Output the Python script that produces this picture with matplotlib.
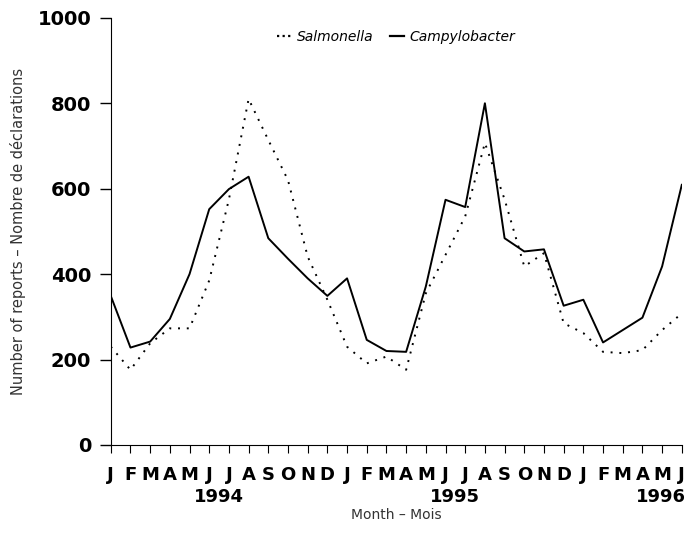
import matplotlib.pyplot as plt
from matplotlib.lines import Line2D
import numpy as np

# Monthly counts, Jan 1994 .. Jun 1996
months = ['J', 'F', 'M', 'A', 'M', 'J', 'J', 'A', 'S', 'O', 'N', 'D',
          'J', 'F', 'M', 'A', 'M', 'J', 'J', 'A', 'S', 'O', 'N', 'D',
          'J', 'F', 'M', 'A', 'M', 'J']
campylobacter = [349, 228, 242, 295, 400, 552, 599, 628, 484, 436, 390, 349,
                 390, 246, 220, 218, 371, 574, 557, 800, 484, 453, 458, 326,
                 340, 240, 269, 298, 418, 609]
salmonella = [230, 176, 238, 273, 273, 385, 575, 810, 714, 620, 441, 340,
              230, 191, 207, 176, 355, 445, 535, 707, 575, 418, 449, 285,
              262, 218, 215, 222, 269, 308]
years = ['1994', '1995', '1996']
year_pos = [5.5, 17.5, 29.2]
year_ha = ['center', 'center', 'right']

x = np.arange(len(months))

fig = plt.figure(figsize=(6.88, 5.4), dpi=100)
ax = fig.add_axes([0.161, 0.176, 0.830, 0.791])

ax.plot(x, salmonella, color='black', lw=1.4, linestyle=(0, (1, 3.5)))
ax.plot(x, campylobacter, color='black', lw=1.4)

ax.set_xlim(0, 29)
ax.set_ylim(0, 1000)
ax.spines['top'].set_visible(False)
ax.spines['right'].set_visible(False)

ax.set_yticks([0, 200, 400, 600, 800, 1000])
ax.tick_params(axis='y', length=8, width=1, pad=6, labelsize=14)
for lbl in ax.get_yticklabels():
    lbl.set_fontweight('bold')

ax.set_xticks(x)
ax.set_xticklabels(months, fontsize=13, fontweight='bold')
ax.tick_params(axis='x', length=6, width=0.8, pad=9)

for yr, pos, ha in zip(years, year_pos, year_ha):
    ax.text(pos, -0.122, yr, transform=ax.get_xaxis_transform(),
            ha=ha, va='center', fontsize=13, fontweight='bold')

fig.text(0.5 * (0.161 + 0.991), 0.046, 'Month – Mois', fontsize=10,
         color='#333333', ha='center', va='center')
ax.set_ylabel('Number of reports – Nombre de déclarations', fontsize=10.5,
              color='#333333', labelpad=8)

handles = [Line2D([], [], color='black', lw=1.6, linestyle=(0, (1, 1.5))),
           Line2D([], [], color='black', lw=1.6)]
leg = ax.legend(handles, ['Salmonella', 'Campylobacter'], loc='upper center',
                bbox_to_anchor=(0.5, 1.0), ncol=2, frameon=False,
                handlelength=1.0, handletextpad=0.4, columnspacing=1.2,
                prop={'style': 'italic', 'size': 10})

fig.savefig('out.png', dpi=100)
